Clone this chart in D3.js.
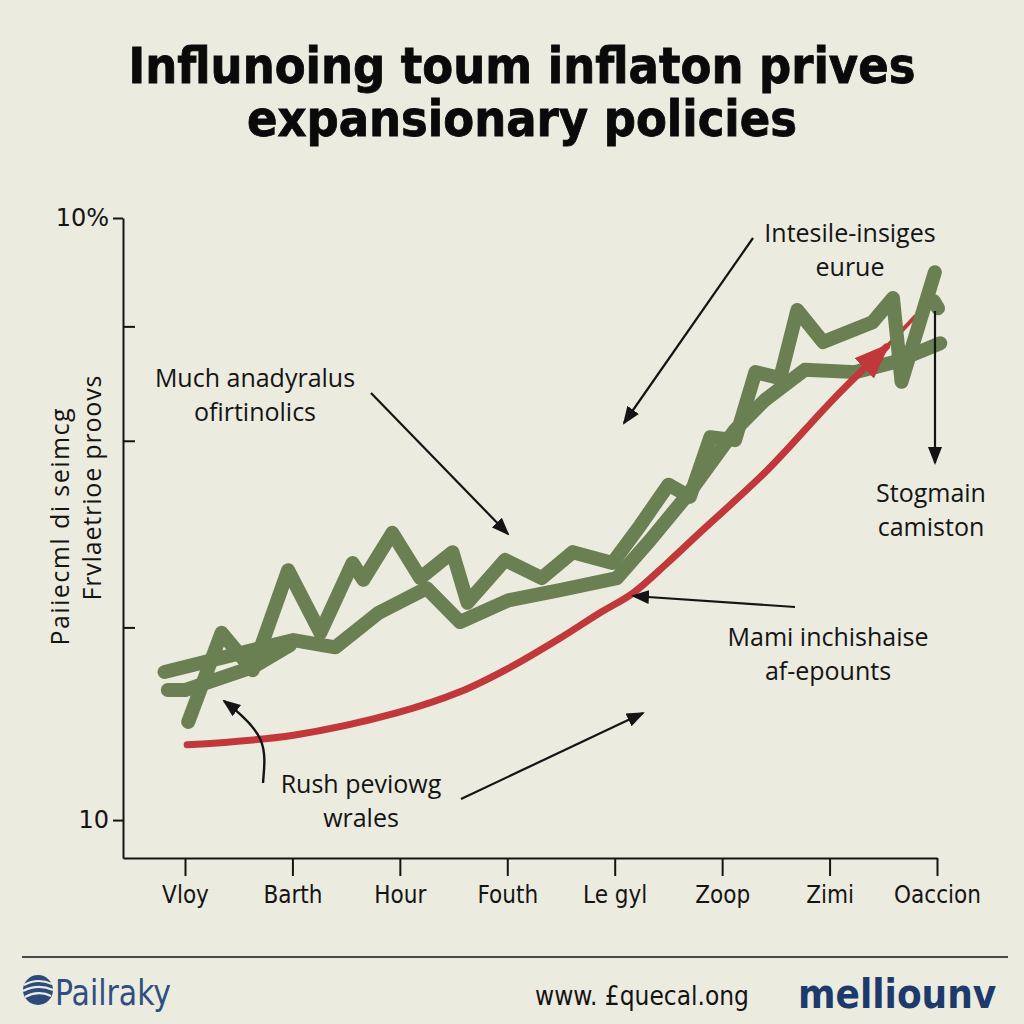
<!DOCTYPE html>
<html><head><meta charset="utf-8">
<script src="https://cdn.jsdelivr.net/npm/d3@7"></script>
<style>body{margin:0;background:#ecebdf}</style>
</head><body><svg id="c" width="1024" height="1024"></svg>
<script>
// ---- data ----
const categories = ["Vloy","Barth","Hour","Fouth","Le gyl","Zoop","Zimi","Oaccion"];
const yTickValues = [0, 3.2, 6.3, 8.2, 10];
const yTickLabels = ["10", "", "", "", "10%"];
const titleLines = ["Influnoing toum inflaton prives", "expansionary policies"];
const yLabelLines = ["Paiiecml di seimcg", "Frvlaetrioe proovs"];
// [category position, value]
const smoothSeries = [[-0.19,2.46],[1.01,2.99],[1.40,2.87],[1.80,3.44],[2.25,3.85],[2.56,3.29],[3.01,3.65],[3.49,3.82],[4.02,4.02],[4.33,4.65],[4.70,5.45],[5.12,6.48],[5.40,6.98],[5.77,7.48],[6.24,7.44],[6.61,7.61],[7.03,7.92]];
const jaggedSeries = [[0.03,1.63],[0.34,3.11],[0.63,2.49],[0.96,4.15],[1.26,3.11],[1.56,4.27],[1.66,3.99],[1.93,4.77],[2.19,4.02],[2.49,4.45],[2.63,3.61],[2.98,4.32],[3.32,4.02],[3.61,4.45],[3.98,4.27],[4.24,4.90],[4.50,5.57],[4.70,5.37],[4.89,6.36],[5.12,6.31],[5.31,7.44],[5.54,7.34],[5.70,8.47],[5.94,7.94],[6.40,8.27],[6.59,8.67],[6.67,7.28],[6.98,9.10]];
const stubSeries = [[-0.16,2.16],[0.00,2.16],[0.63,2.54],[0.98,2.91]];
const tailSeries = [[6.97,8.62],[7.01,8.50]];
const redSeries = [[0.02,1.25],[1.01,1.41],[1.97,1.78],[2.56,2.13],[3.01,2.52],[3.49,3.02],[3.86,3.44],[4.17,3.77],[4.49,4.27],[4.79,4.77],[5.42,5.81],[6.03,6.98],[6.53,7.86]];
const redExtension = [[6.53,7.86],[6.80,8.37]];
const annotations = [
  {lines:["Much anadyralus","ofirtinolics"], x:255, y:387, from:[371,393], to:[508,534]},
  {lines:["Intesile-insiges","eurue"], x:850, y:242, from:[753,238], to:[624,423]},
  {lines:["Stogmain","camiston"], x:931, y:502, from:[935,311], to:[935,463]},
  {lines:["Mami inchishaise","af-epounts"], x:828, y:646, from:[795,607], to:[633,596]},
  {lines:["Rush peviowg","wrales"], x:361, y:793, from:[461,799], to:[643,713]}
];

// ---- drawing ----
const svg = d3.select("#c");
const BG = "#ecebdf", GREEN = "#6a7f52", RED = "#c0383a", INK = "#141414";
svg.append("rect").attr("width",1024).attr("height",1024).attr("fill",BG);

const x = d3.scaleLinear().domain([-0.577, 7]).range([123, 937]);
const y = d3.scaleLinear().domain([-0.63, 10]).range([858, 218]);

const defs = svg.append("defs");
defs.append("marker").attr("id","ah").attr("markerUnits","userSpaceOnUse")
  .attr("viewBox","0 -8 18 16").attr("markerWidth",18).attr("markerHeight",16)
  .attr("refX",16).attr("refY",0).attr("orient","auto")
  .append("path").attr("d","M0,-7 L18,0 L0,7 Z").attr("fill",INK);
defs.append("marker").attr("id","rh").attr("markerUnits","userSpaceOnUse")
  .attr("viewBox","0 -15 36 30").attr("markerWidth",36).attr("markerHeight",30)
  .attr("refX",31).attr("refY",0).attr("orient","auto")
  .append("path").attr("d","M0,-14 L36,0 L0,14 Z").attr("fill",RED);

// title
svg.append("g").selectAll("text").data(titleLines).join("text")
  .attr("x",522).attr("y",(d,i)=>83+i*53)
  .attr("text-anchor","middle")
  .style("font-family","'DejaVu Sans Condensed','DejaVu Sans',sans-serif")
  .style("font-weight","bold").style("font-size","50px").attr("fill","#0a0a0a")
  .attr("stroke","#0a0a0a").attr("stroke-width",0.8)
  .text(d=>d);

// axes
const yAxis = d3.axisLeft(y).tickValues(yTickValues).tickSizeOuter(0)
  .tickFormat((d,i)=>yTickLabels[i]).tickPadding(8);
const gy = svg.append("g").attr("transform","translate(123,0)").call(yAxis);
gy.selectAll(".tick line").attr("x2",(d,i)=> yTickLabels[i] ? -10 : 12);
gy.select(".domain").attr("stroke",INK).attr("stroke-width",2);
gy.selectAll(".tick line").attr("stroke",INK).attr("stroke-width",2);
gy.selectAll(".tick text").attr("fill",INK)
  .style("font-family","'DejaVu Sans',sans-serif").style("font-size","24px");

const xAxis = d3.axisBottom(x).tickValues(d3.range(categories.length))
  .tickFormat(i=>categories[i]).tickSize(18).tickSizeOuter(0).tickPadding(10);
const gx = svg.append("g").attr("transform","translate(0,858)").call(xAxis);
gx.select(".domain").attr("stroke",INK).attr("stroke-width",2);
gx.selectAll(".tick line").attr("stroke",INK).attr("stroke-width",2);
gx.selectAll(".tick text").attr("fill",INK)
  .style("font-family","'DejaVu Sans Condensed','DejaVu Sans',sans-serif").style("font-size","24px");

// y label
svg.append("g").selectAll("text").data(yLabelLines).join("text")
  .attr("transform",(d,i)=> i===0 ? "translate(69,527) rotate(-90)" : "translate(101,488) rotate(-90)")
  .attr("text-anchor","middle")
  .attr("textLength",(d,i)=> i===0 ? 237 : 225).attr("lengthAdjust","spacing")
  .style("font-family","'Open Sans',sans-serif").style("font-size","25px").attr("fill",INK)
  .text(d=>d);

// series
const line = d3.line().x(d=>x(d[0])).y(d=>y(d[1]));
const smooth = d3.line().x(d=>x(d[0])).y(d=>y(d[1])).curve(d3.curveCatmullRom.alpha(0.5));
svg.append("path").attr("d",line(redExtension)).attr("fill","none")
  .attr("stroke",RED).attr("stroke-width",4).attr("stroke-linecap","round");
[smoothSeries, jaggedSeries, stubSeries, tailSeries].forEach(s=>{
  svg.append("path").attr("d",line(s)).attr("fill","none")
    .attr("stroke",GREEN).attr("stroke-width",14)
    .attr("stroke-linejoin","round").attr("stroke-linecap","round");
});
svg.append("path").attr("d",smooth(redSeries)).attr("fill","none")
  .attr("stroke",RED).attr("stroke-width",7)
  .attr("stroke-linejoin","round").attr("stroke-linecap","round")
  .attr("marker-end","url(#rh)");

// annotations
const ag = svg.append("g");
annotations.forEach(a=>{
  a.lines.forEach((t,i)=>{
    ag.append("text").attr("x",a.x).attr("y",a.y+i*34).attr("text-anchor","middle")
      .style("font-family","'Open Sans',sans-serif").style("font-size","25px")
      .attr("fill",INK).text(t);
  });
  ag.append("line").attr("x1",a.from[0]).attr("y1",a.from[1])
    .attr("x2",a.to[0]).attr("y2",a.to[1])
    .attr("stroke",INK).attr("stroke-width",2.2).attr("marker-end","url(#ah)");
});
ag.append("path").attr("d","M263,783 C266,748 268,734 224,701")
  .attr("fill","none").attr("stroke",INK).attr("stroke-width",2.4).attr("marker-end","url(#ah)");

// footer
svg.append("line").attr("x1",22).attr("x2",1008).attr("y1",957).attr("y2",957)
  .attr("stroke","#4a4a4a").attr("stroke-width",2);
const logo = svg.append("g").attr("transform","translate(38,990)");
logo.append("circle").attr("r",15).attr("fill","#2c4a7c");
["M-14,-5 C-5,-10 5,-10 14,-6","M-15,1 C-5,-4 6,-4 15,0","M-13,7 C-4,2 6,2 13,6"].forEach(d=>{
  logo.append("path").attr("d",d).attr("fill","none").attr("stroke","#ecebdf").attr("stroke-width",2.2);
});
svg.append("text").attr("x",55).attr("y",1005)
  .style("font-family","'Liberation Sans Narrow','DejaVu Sans Condensed',sans-serif")
  .style("font-size","35px").attr("fill","#2f4f82").attr("textLength",116).attr("lengthAdjust","spacingAndGlyphs").text("Pailraky");
svg.append("text").attr("x",535).attr("y",1005)
  .style("font-family","'DejaVu Sans Condensed','DejaVu Sans',sans-serif")
  .style("font-size","26px").attr("fill",INK).text("www. £quecal.ong");
svg.append("text").attr("x",798).attr("y",1008)
  .style("font-family","'DejaVu Sans Condensed','DejaVu Sans',sans-serif")
  .style("font-weight","bold").style("font-size","40px").attr("fill","#1c3a6c").text("melliounv");
</script></body></html>
